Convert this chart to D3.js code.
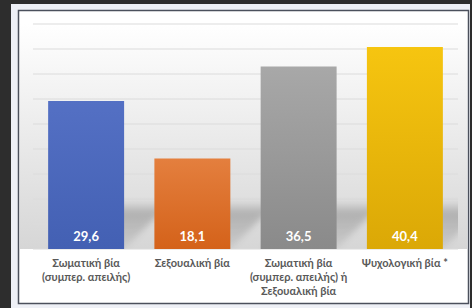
<!DOCTYPE html>
<html><head><meta charset="utf-8">
<script src="https://cdn.jsdelivr.net/npm/d3@7"></script>
<style>html,body{margin:0;padding:0;background:#2d2d2d;}svg{display:block;}</style>
</head><body>
<script>
const categories = ["Σωματική βία\n(συμπερ. απειλής)", "Σεξουαλική βία", "Σωματική βία\n(συμπερ. απειλής) ή\nΣεξουαλική βία", "Ψυχολογική βία *"];
const values = [29.6, 18.1, 36.5, 40.4];
const valueLabels = ["29,6", "18,1", "36,5", "40,4"];
const colorsTop = ["#5470c4", "#e47f3e", "#a8a8a8", "#f6c510"];
const colorsBottom = ["#4360b3", "#d4621a", "#8a8a8a", "#dba806"];
const yTicks = [0, 5, 10, 15, 20, 25, 30, 35, 40, 45];

const W = 472, H = 308;
const svg = d3.select("body").append("svg").attr("width", W).attr("height", H);
const defs = svg.append("defs");

// frame
svg.append("rect").attr("width", W).attr("height", H).attr("fill", "#2d2d2d");
svg.append("rect").attr("x", 11).attr("y", 4).attr("width", 459).attr("height", 304).attr("fill", "#eef0f6");
svg.append("rect").attr("x", 18.5).attr("y", 10.5).attr("width", 450).attr("height", 293).attr("fill", "#ffffff")
  .attr("stroke", "#4b505c").attr("stroke-width", 1.5);

const x = d3.scaleBand().domain(d3.range(categories.length)).range([33, 458]).paddingInner(0.285).paddingOuter(0.1425);
const y = d3.scaleLinear().domain([0, 45]).range([249, 24]);

// plot background gradient
const bg = defs.append("linearGradient").attr("id", "bg").attr("x1", 0).attr("y1", 0).attr("x2", 0).attr("y2", 1);
bg.append("stop").attr("offset", "0%").attr("stop-color", "#ffffff");
bg.append("stop").attr("offset", "100%").attr("stop-color", "#d6d6d6");
svg.append("rect").attr("x", 20).attr("y", y(45)).attr("width", 447).attr("height", y(0) - y(45)).attr("fill", "url(#bg)");

// gridlines
svg.append("g").selectAll("line").data(yTicks).join("line")
  .attr("x1", 33).attr("x2", 458).attr("y1", d => y(d)).attr("y2", d => y(d))
  .attr("stroke", d => d === 0 ? "#d9d9d9" : "#dcdcdc").attr("stroke-width", 1.2);

// shadows
defs.append("filter").attr("id", "blur").attr("x", "-20%").attr("y", "-20%").attr("width", "140%").attr("height", "140%")
  .append("feGaussianBlur").attr("stdDeviation", 3);
const sg = defs.append("linearGradient").attr("id", "sg").attr("x1", 0).attr("y1", 1).attr("x2", 0).attr("y2", 0);
sg.append("stop").attr("offset", "0%").attr("stop-color", "#000").attr("stop-opacity", 0.05);
sg.append("stop").attr("offset", "75%").attr("stop-color", "#000").attr("stop-opacity", 0.2);
sg.append("stop").attr("offset", "100%").attr("stop-color", "#000").attr("stop-opacity", 0.0);
const clip = defs.append("clipPath").attr("id", "pclip");
clip.append("rect").attr("x", 33).attr("y", y(45)).attr("width", 425).attr("height", y(0) - y(45));
const base = y(0);
const dx = 48, dy = 48;
svg.append("g").attr("clip-path", "url(#pclip)").selectAll("polygon").data(values).join("polygon")
  .attr("points", (d, i) => {
    const x0 = x(i), x1 = x(i) + x.bandwidth();
    return [[x0, base], [x1, base], [x1 + dx, base - dy], [x0 + dx, base - dy]].map(p => p.join(",")).join(" ");
  })
  .attr("fill", "url(#sg)").attr("filter", "url(#blur)");

// bars
values.forEach((v, i) => {
  const g = defs.append("linearGradient").attr("id", "bar" + i).attr("x1", 0).attr("y1", 0).attr("x2", 0).attr("y2", 1);
  g.append("stop").attr("offset", "0%").attr("stop-color", colorsTop[i]);
  g.append("stop").attr("offset", "100%").attr("stop-color", colorsBottom[i]);
});
svg.append("g").selectAll("rect").data(values).join("rect")
  .attr("x", (d, i) => x(i)).attr("width", x.bandwidth())
  .attr("y", d => y(d)).attr("height", d => y(0) - y(d))
  .attr("fill", (d, i) => `url(#bar${i})`);

// value labels
const font = "Lato, 'Noto Sans', sans-serif";
svg.append("g").selectAll("text").data(valueLabels).join("text")
  .attr("x", (d, i) => x(i) + x.bandwidth() / 2).attr("y", 241)
  .attr("text-anchor", "middle").attr("fill", "#ffffff")
  .attr("font-family", font).attr("font-weight", "bold").attr("font-size", 13)
  .text(d => d);

// category labels
const cl = svg.append("g").selectAll("text").data(categories).join("text")
  .attr("x", (d, i) => x(i) + x.bandwidth() / 2).attr("y", 267)
  .attr("text-anchor", "middle").attr("fill", "#595959")
  .attr("font-family", font).attr("font-weight", "bold").attr("font-size", 11);
cl.each(function(d, i) {
  const t = d3.select(this);
  d.split("\n").forEach((line, j) => {
    t.append("tspan").attr("x", x(i) + x.bandwidth() / 2).attr("dy", j === 0 ? 0 : 14).text(line);
  });
});
</script>
</body></html>
